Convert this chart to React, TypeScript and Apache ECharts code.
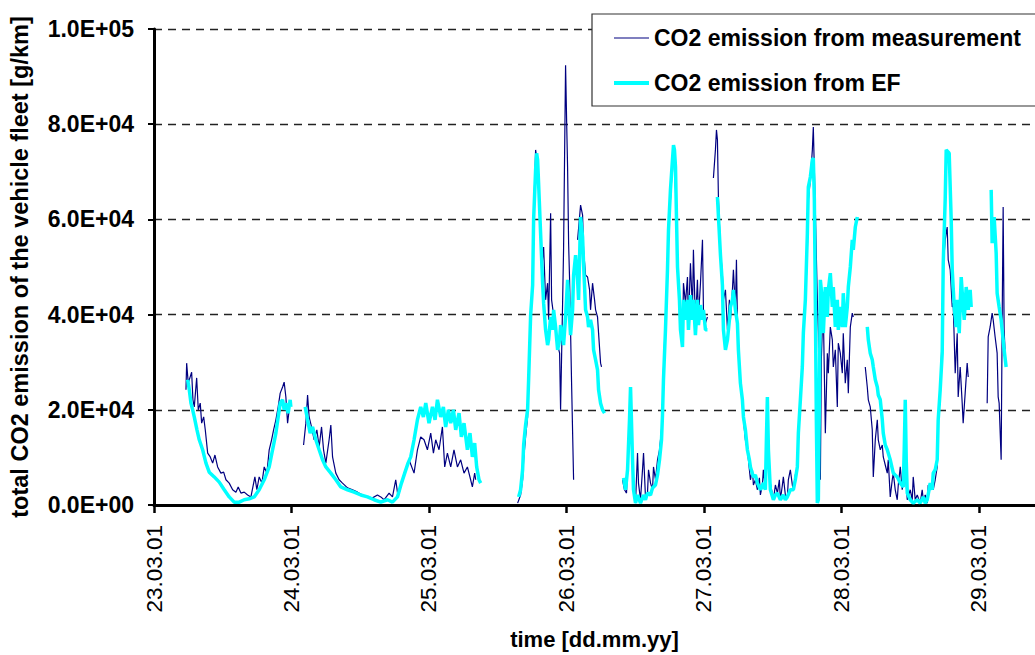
import React, { useEffect, useRef } from "react";
import * as echarts from "echarts";

// Time is in hours since 23.03.01 00:00, CO2 in g/km.
// Each run is an uninterrupted stretch of the record; gaps between runs stay empty.

// CO2 emission from measurement
const measA: [number, number][] = [
  [5.58, 24200], [5.7, 29800], [5.98, 25600], [6.57, 27900], [6.8, 22100], [7.03, 20600], [7.45, 26700],
  [7.73, 20000], [8.07, 21400], [8.32, 17200], [8.67, 18500], [8.95, 15800], [9.37, 10900], [9.82, 10100],
  [10.24, 8800], [10.64, 10500], [11.11, 8000], [11.68, 6700], [12.16, 6900], [12.56, 5300], [13.13, 4600],
  [13.73, 3200], [14.3, 2700], [14.7, 3800], [15.17, 2500], [15.75, 2700], [16.34, 2100], [16.92, 1700],
  [17.61, 5900], [17.96, 3200], [18.36, 5900], [18.84, 4600], [19.24, 8000], [19.71, 6700], [20.11, 11600],
  [20.53, 13700], [20.88, 15800], [21.28, 17900], [21.68, 20600], [22.03, 23500], [22.45, 24800],
  [22.72, 25800], [23.02, 22700], [23.32, 17200], [23.6, 20000],
];
const measB: [number, number][] = [
  [26.11, 12600], [26.51, 17200], [26.81, 23100], [27.08, 18500], [27.5, 16400], [27.96, 13700], [28.43, 15800],
  [28.83, 12200], [29.25, 16400], [29.6, 11600], [30.0, 8800], [30.57, 13700], [30.87, 16800], [31.17, 10100],
  [31.74, 6700], [32.32, 5300], [32.91, 4600], [33.78, 3600], [34.65, 3200], [35.53, 2700], [36.4, 2100],
  [37.27, 1700], [38.14, 1500], [39.01, 2100], [39.59, 1700], [40.16, 1100], [41.04, 2500], [41.63, 1700],
  [42.2, 5300], [42.61, 1700], [43.08, 3800], [43.65, 6700], [44.52, 9500], [45.4, 6700], [45.99, 11600],
  [46.56, 14300], [47.14, 13700], [47.73, 11600], [48.31, 15100], [48.78, 10900], [49.18, 13700],
  [49.76, 11600], [50.35, 16400], [50.75, 8000], [51.22, 10900], [51.8, 8000], [52.37, 11600], [52.97, 8000],
  [53.54, 9500], [54.12, 6700], [54.71, 8000], [55.28, 5300], [55.58, 3800], [55.98, 6700], [56.16, 5300],
];
const measC: [number, number][] = [
  [63.48, 400], [64.0, 2100], [64.35, 5300], [64.53, 9500], [64.87, 14300], [65.22, 18500], [65.4, 26900],
  [65.75, 41000], [66.1, 46600], [66.27, 60500], [66.62, 74600], [66.97, 71400], [67.14, 66200],
  [67.49, 57100], [67.67, 49400], [68.02, 54200], [68.36, 43100], [68.71, 46600], [68.89, 38900],
  [69.24, 61300], [69.41, 43100], [69.76, 39900], [70.11, 36800], [70.46, 33600], [70.81, 31900],
  [70.98, 20000], [71.33, 42400], [71.5, 53600], [71.85, 92400], [72.03, 80900], [72.2, 71000],
  [72.38, 55000], [72.55, 47300], [72.9, 25600], [73.25, 5300],
];
const measD: [number, number][] = [
  [73.95, 55700], [74.47, 63000], [74.82, 60900], [74.99, 53600], [75.34, 48300], [75.69, 47900],
  [76.04, 45200], [76.21, 41000], [76.56, 46600], [76.91, 43100], [77.09, 41000], [77.43, 39500],
  [77.61, 36100], [77.96, 29800], [78.13, 29000],
];
const measE: [number, number][] = [
  [81.79, 5300], [82.14, 3200], [82.49, 2500], [82.84, 13700], [83.19, 24200], [83.54, 7400], [83.71, 4600],
  [84.06, 400], [84.41, 10900], [84.58, 4600], [84.93, 1100], [85.28, 7400], [85.46, 10900], [85.8, 1700],
  [86.15, 2500], [86.33, 7400], [86.68, 4600], [87.03, 3200], [87.2, 8000], [87.55, 5300], [87.9, 9500],
  [88.25, 11600], [88.6, 15800], [88.77, 20000], [88.94, 28400], [89.29, 38900], [89.64, 49400],
  [89.82, 56700], [90.16, 64100], [90.51, 71400], [90.69, 74600], [90.86, 70400], [91.04, 66200],
  [91.21, 57800], [91.39, 49400], [91.73, 42000], [91.91, 36800], [92.26, 33200], [92.43, 46600],
  [92.78, 42400], [93.13, 47900], [93.3, 38200], [93.65, 50800], [94.0, 41000], [94.17, 53600],
  [94.52, 38200], [94.87, 47300], [95.05, 39500], [95.4, 46600], [95.75, 55700], [95.92, 41000],
  [96.27, 38200], [96.62, 39500],
];
const measF: [number, number][] = [
  [97.66, 68700], [98.01, 74600], [98.19, 78800], [98.36, 76700], [98.54, 64100], [98.89, 53600],
  [99.23, 48300], [99.41, 43100], [99.76, 45200], [100.11, 36800], [100.45, 43100], [100.63, 38900],
  [100.98, 45200], [101.15, 49400], [101.5, 41000], [101.68, 51500], [101.85, 38900], [102.02, 32600],
  [102.37, 26300], [102.72, 22100], [102.9, 17900], [103.24, 13700], [103.59, 11600], [103.94, 7400],
  [104.12, 5300], [104.47, 7400], [104.64, 4200], [104.99, 5300], [105.34, 3200], [105.69, 5700],
  [105.86, 2100], [106.21, 4200], [106.38, 7400], [106.73, 3200], [107.08, 17900], [107.26, 9500],
  [107.6, 4600], [108.13, 1100], [108.48, 4200], [108.83, 2500], [109.17, 5300], [109.35, 1100],
  [109.7, 4200], [109.87, 5900], [110.22, 2100], [110.57, 1700], [110.74, 5300], [111.09, 7400],
  [111.44, 4200], [111.62, 3200], [111.96, 6300], [112.31, 8000], [112.49, 13700], [112.84, 21000],
  [113.18, 28400], [113.36, 34700], [113.71, 42000], [114.06, 53600], [114.23, 64100], [114.58, 68300],
  [114.93, 74600], [115.1, 79400], [115.45, 62000], [115.8, 43100], [115.98, 36100], [116.15, 17900],
  [116.33, 5300], [116.5, 30500], [116.67, 36800], [116.85, 40300], [117.2, 15100], [117.55, 31900],
  [117.72, 27700], [118.07, 37400], [118.42, 34700], [118.59, 29000], [118.94, 32600], [119.29, 20600],
  [119.46, 34000], [119.81, 31900], [120.16, 27700], [120.33, 36100], [120.68, 25600], [121.03, 30500],
  [121.21, 23500], [121.56, 37400], [121.9, 40300], [122.08, 39500],
];
const measG: [number, number][] = [
  [124.17, 29000], [124.52, 24800], [124.7, 22100], [125.04, 20600], [125.39, 15800], [125.57, 5900],
  [125.92, 13700], [126.27, 17900], [126.44, 13700], [126.79, 11600], [127.14, 12600], [127.31, 10100],
  [127.66, 8400], [128.01, 6700], [128.18, 9500], [128.53, 1700], [128.88, 5300], [129.06, 6700],
  [129.4, 3200], [129.75, 1100], [129.93, 4200], [130.28, 8000], [130.62, 3200], [130.8, 4600],
  [131.15, 7400], [131.5, 1100], [132.02, 3200], [132.37, 1100], [132.54, 5900], [132.89, 1100],
  [133.24, 2100], [133.76, 400], [134.11, 3200], [134.29, 1100], [134.64, 2100], [134.99, 400],
  [135.16, 4200], [135.51, 3200], [135.86, 5300], [136.03, 3200], [136.38, 5300], [136.73, 8000],
  [136.9, 18500], [137.25, 22100], [137.6, 36800], [137.78, 50000], [138.12, 55700], [138.47, 58400],
  [138.65, 51500], [139.0, 49400], [139.35, 41600], [139.52, 42400], [139.87, 27700], [140.22, 36100],
  [140.39, 22700], [140.74, 29000], [141.09, 21400], [141.26, 17200], [141.61, 23500], [141.96, 29800],
  [142.14, 26900],
];
const measH: [number, number][] = [
  [145.45, 21400], [145.63, 35300], [145.97, 37400], [146.32, 40300], [146.5, 38900], [146.84, 35300],
  [147.19, 31900], [147.37, 22700], [147.54, 21400], [147.89, 9500], [148.07, 38900], [148.24, 62600],
  [148.41, 36800], [148.59, 31900],
];

// CO2 emission from EF
const efA: [number, number][] = [
  [5.88, 26300], [6.16, 24200], [6.45, 21400], [6.75, 20000], [7.03, 18500], [7.5, 15800], [7.9, 13700],
  [8.49, 11600], [9.07, 8800], [9.64, 6900], [10.52, 5900], [11.39, 4800], [12.26, 3200], [13.13, 1700],
  [14.0, 600], [14.88, 600], [15.75, 1100], [16.62, 1300], [17.49, 1700], [18.36, 3200], [19.24, 5300],
  [20.11, 8000], [20.7, 11600], [21.28, 15100], [21.68, 18500], [22.03, 21400], [22.45, 22100],
  [22.72, 20000], [23.02, 21400], [23.42, 19300], [23.77, 22100], [23.89, 20600],
];
const efB: [number, number][] = [
  [26.39, 20600], [26.81, 17900], [27.26, 15100], [27.68, 16400], [28.25, 13700], [28.83, 11600],
  [29.42, 9500], [30.0, 8000], [30.87, 6700], [31.74, 5300], [32.61, 3800], [33.78, 3200], [34.93, 2700],
  [36.1, 2100], [37.27, 1700], [38.42, 1100], [39.59, 600], [40.76, 1100], [41.63, 600], [42.5, 1700],
  [43.2, 4600], [43.77, 6700], [44.35, 8800], [44.82, 10100], [45.4, 13700], [45.99, 17900], [46.56, 20600],
  [47.03, 18500], [47.44, 21400], [48.01, 17200], [48.61, 20600], [49.06, 17900], [49.48, 22100],
  [50.05, 18500], [50.52, 20600], [50.92, 16400], [51.4, 20000], [51.8, 17200], [52.27, 20000],
  [52.67, 15800], [53.25, 19300], [53.66, 14300], [54.12, 17200], [54.71, 11600], [55.16, 15100],
  [55.58, 10100], [55.98, 13000], [56.33, 8000], [56.74, 5300], [57.03, 4600],
];
const efC: [number, number][] = [
  [63.66, 1700], [64.0, 3200], [64.35, 7400], [64.53, 12600], [64.87, 16800], [65.22, 20000], [65.4, 26300],
  [65.75, 39900], [66.1, 46200], [66.27, 59900], [66.62, 70400], [66.8, 73900], [66.97, 72500],
  [67.14, 67600], [67.49, 57100], [67.84, 46600], [68.02, 42400], [68.36, 36800], [68.71, 33600],
  [68.89, 34700], [69.24, 39500], [69.59, 36800], [69.76, 41000], [70.11, 37400], [70.46, 32600],
  [70.81, 34700], [70.98, 37800], [71.33, 36100], [71.5, 33600], [71.85, 39500], [72.2, 47300],
  [72.38, 43100], [72.72, 35700], [73.07, 41000], [73.25, 48300], [73.6, 52500], [73.95, 47300],
  [74.12, 43100], [74.47, 60500], [74.82, 56300], [74.99, 50800], [75.34, 41000], [75.69, 39500],
  [75.86, 37400], [76.21, 38900], [76.56, 36800], [76.74, 32600], [77.09, 30500], [77.43, 28400],
  [77.61, 24200], [77.96, 21400], [78.3, 20000], [78.65, 19300],
];
const efD: [number, number][] = [
  [81.97, 5700], [82.32, 3200], [82.67, 7400], [83.01, 17900], [83.19, 24800], [83.54, 9500], [83.71, 3200],
  [84.06, 400], [84.41, 2100], [84.93, 400], [85.46, 2100], [85.8, 1100], [86.15, 2500], [86.68, 2100],
  [87.03, 3600], [87.55, 4200], [87.9, 6300], [88.25, 9500], [88.6, 13700], [88.77, 18900], [88.94, 26300],
  [89.29, 36800], [89.64, 49400], [89.82, 57800], [90.16, 66200], [90.51, 72500], [90.69, 75600],
  [90.86, 74600], [91.04, 71000], [91.21, 60500], [91.39, 50000], [91.73, 43100], [91.91, 36800],
  [92.26, 33200], [92.43, 43100], [92.78, 38900], [93.13, 43100], [93.3, 36800], [93.65, 44100],
  [94.0, 38900], [94.17, 43100], [94.52, 35700], [94.87, 43100], [95.05, 37800], [95.4, 42000],
  [95.75, 38900], [95.92, 41000], [96.27, 36800], [96.62, 36800],
];
const efE: [number, number][] = [
  [98.36, 64700], [98.89, 52500], [99.23, 46200], [99.41, 36800], [99.76, 32600], [100.11, 34700],
  [100.45, 38900], [100.63, 41600], [100.98, 43100], [101.15, 45200], [101.5, 41000], [101.85, 38200],
  [102.02, 32600], [102.37, 25600], [102.72, 22100], [102.9, 18500], [103.24, 15800], [103.59, 11600],
  [103.94, 9500], [104.12, 8000], [104.64, 5900], [104.99, 6300], [105.34, 4600], [105.86, 3200],
  [106.21, 4200], [106.38, 4600], [106.73, 3200], [106.91, 13700], [107.08, 22700], [107.26, 11600],
  [107.6, 3200], [108.13, 1100], [108.48, 2100], [108.83, 2500], [109.35, 1100], [109.87, 2100],
  [110.22, 1100], [110.57, 1700], [111.09, 3200], [111.62, 3200], [111.96, 5300], [112.31, 8000],
  [112.49, 15100], [112.84, 22100], [113.18, 29000], [113.36, 36100], [113.71, 43100], [114.06, 57100],
  [114.23, 66800], [114.58, 68900], [114.93, 72500], [115.1, 72900], [115.28, 64100], [115.45, 43100],
  [115.63, 17900], [115.8, 400], [115.98, 1100], [116.15, 22100], [116.33, 47300], [116.67, 43100],
  [116.85, 36100], [117.2, 45800], [117.55, 39500], [117.72, 45200], [118.07, 48700], [118.42, 41600],
  [118.59, 45800], [118.94, 37400], [119.29, 43100], [119.46, 36800], [119.81, 41600], [120.16, 37400],
  [120.33, 44500], [120.68, 37400], [121.03, 41600], [121.21, 45800], [121.56, 50000], [121.9, 55700],
  [122.08, 53600], [122.43, 58400], [122.78, 60500],
];
const efF: [number, number][] = [
  [124.52, 37400], [124.7, 34700], [125.04, 31900], [125.39, 30500], [125.57, 29000], [125.92, 26300],
  [126.27, 24800], [126.44, 23100], [126.79, 22100], [127.14, 17900], [127.31, 15100], [127.66, 12600],
  [128.01, 11600], [128.53, 9500], [129.06, 6700], [129.4, 6300], [129.75, 5900], [130.28, 4600],
  [130.8, 3800], [130.97, 11600], [131.15, 22100], [131.32, 9500], [131.5, 2500], [132.02, 1100],
  [132.54, 400], [133.24, 1100], [133.76, 400], [134.29, 1700], [134.64, 400], [134.99, 1100],
  [135.51, 4600], [135.86, 3200], [136.03, 6700], [136.38, 7400], [136.73, 9500], [136.9, 17900],
  [137.25, 24200], [137.6, 31900], [137.78, 50800], [138.12, 64100], [138.3, 74600], [138.82, 73900],
  [139.17, 59900], [139.35, 49400], [139.7, 41600], [140.05, 37400], [140.22, 43100], [140.57, 36100],
  [140.92, 47900], [141.26, 41600], [141.44, 38900], [141.79, 45800], [142.14, 41000], [142.48, 45200],
  [142.66, 41600],
];
const efG: [number, number][] = [
  [146.15, 66200], [146.32, 55000], [146.67, 60500], [147.02, 52900], [147.19, 44500], [147.54, 41600],
  [147.89, 38900], [148.24, 34700], [148.41, 32600], [148.76, 29000],
];

const measurementRuns = [measA, measB, measC, measD, measE, measF, measG, measH];
const efRuns = [efA, efB, efC, efD, efE, efF, efG];

const dayTicks = [0, 24, 48, 72, 96, 120, 144];
const firstDay = 23;
const axisEndHour = 153.8;

const SERIES_MEAS = "CO2 emission from measurement";
const SERIES_EF = "CO2 emission from EF";

// join runs into one series, with an empty point between runs
function joinRuns(runs: [number, number][][]): (number | null)[][] {
  const out: (number | null)[][] = [];
  runs.forEach((run, i) => {
    if (i > 0) out.push([run[0][0], null]);
    run.forEach((p) => out.push([p[0], p[1]]));
  });
  return out;
}

function sciLabel(v: number): string {
  if (v === 0) return "0.0E+00";
  const e = Math.floor(Math.log10(v) + 1e-9);
  const m = v / Math.pow(10, e);
  return m.toFixed(1) + "E+" + String(e).padStart(2, "0");
}

function dayLabel(h: number): string {
  if (Math.abs(h / 24 - Math.round(h / 24)) > 1e-6) return "";
  const d = firstDay + Math.round(h / 24);
  return String(d).padStart(2, "0") + ".03.01";
}

const FONT = "'Liberation Sans', Arial, Helvetica, sans-serif";

export default function App() {
  const ref = useRef<HTMLDivElement>(null);

  useEffect(() => {
    if (!ref.current) return;
    const chart = echarts.init(ref.current, null, { renderer: "svg" });
    chart.setOption({
      animation: false,
      backgroundColor: "#ffffff",
      textStyle: { fontFamily: FONT },
      grid: { left: 153, right: 0, top: 29, bottom: 150, containLabel: false },
      legend: {
        orient: "vertical",
        left: 592,
        top: 14,
        padding: [12, 20, 11, 20],
        itemGap: 21,
        itemWidth: 35,
        itemHeight: 4,
        backgroundColor: "#ffffff",
        borderColor: "#333333",
        borderWidth: 1.2,
        borderRadius: 0,
        selectedMode: false,
        textStyle: { fontFamily: FONT, fontSize: 23, fontWeight: "bold", color: "#000", lineHeight: 24 },
        data: [
          { name: SERIES_MEAS, lineStyle: { width: 1.2, color: "#000080" }, itemStyle: { opacity: 0 } },
          { name: SERIES_EF, lineStyle: { width: 4, color: "#00ffff" }, itemStyle: { opacity: 0 } },
        ],
      },
      xAxis: {
        type: "value",
        min: 0,
        max: axisEndHour,
        interval: 24,
        name: "time [dd.mm.yy]",
        nameLocation: "middle",
        nameGap: 123,
        nameTextStyle: { fontFamily: FONT, fontSize: 22, fontWeight: "bold", color: "#000" },
        axisLine: { onZero: false, lineStyle: { color: "#000", width: 3 } },
        axisTick: { show: true, length: 8, lineStyle: { color: "#000", width: 2.5 }, customValues: dayTicks },
        axisLabel: {
          rotate: 90,
          margin: 20,
          fontFamily: FONT,
          fontSize: 22.5,
          color: "#000",
          customValues: dayTicks,
          formatter: (v: number) => dayLabel(v),
        },
        splitLine: { show: false },
      },
      yAxis: {
        type: "value",
        min: 0,
        max: 100000,
        interval: 20000,
        name: "total CO2 emission of the vehicle fleet [g/km]",
        nameLocation: "middle",
        nameGap: 122,
        nameRotate: 90,
        nameTextStyle: { fontFamily: FONT, fontSize: 23.5, fontWeight: "bold", color: "#000" },
        axisLine: { show: true, lineStyle: { color: "#000", width: 3 } },
        axisTick: { show: true, length: 6, lineStyle: { color: "#000", width: 2 } },
        axisLabel: {
          margin: 20,
          fontFamily: FONT,
          fontSize: 23,
          fontWeight: "bold",
          color: "#000",
          formatter: (v: number) => sciLabel(v),
        },
        splitLine: { show: true, lineStyle: { color: "#222", width: 1.3, type: [8, 6] } },
      },
      series: [
        {
          name: SERIES_MEAS,
          type: "line",
          symbol: "none",
          connectNulls: false,
          data: joinRuns(measurementRuns),
          lineStyle: { color: "#000080", width: 1.2 },
          itemStyle: { color: "#000080" },
          z: 2,
        },
        {
          name: SERIES_EF,
          type: "line",
          symbol: "none",
          connectNulls: false,
          data: joinRuns(efRuns),
          lineStyle: { color: "#00ffff", width: 3.5 },
          itemStyle: { color: "#00ffff" },
          z: 3,
        },
      ],
    });
    return () => chart.dispose();
  }, []);

  return (
    <div
      ref={ref}
      style={{ position: "fixed", left: 0, top: 0, width: 1035, height: 655, background: "#fff" }}
    />
  );
}
